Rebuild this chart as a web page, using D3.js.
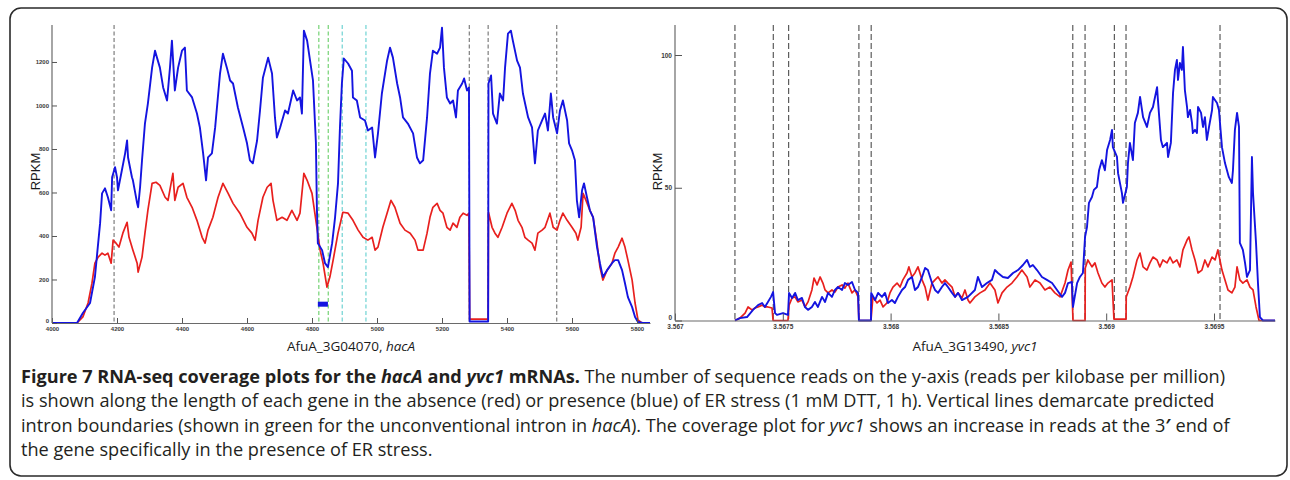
<!DOCTYPE html>
<html>
<head>
<meta charset="utf-8">
<script src="https://cdn.jsdelivr.net/npm/d3@7"></script>
<style>
  body { margin: 0; background: #fff; }
</style>
</head>
<body>
<script>
let w = 1290;
let h = 480;

// ---- hacA panel (x = position, y = RPKM) ----
const hacaRed = [
  [4003,0],[4077,0],[4095,28],[4111,92],[4123,183],[4132,275],[4142,303],[4154,321],[4163,312],[4172,321],
  [4182,275],[4188,381],[4197,367],[4206,349],[4218,413],[4231,463],[4237,394],[4249,335],[4262,275],[4265,234],
  [4277,303],[4286,413],[4295,518],[4308,642],[4320,647],[4332,633],[4348,578],[4357,564],[4372,688],[4378,564],
  [4388,624],[4403,642],[4415,578],[4431,532],[4446,472],[4462,394],[4471,367],[4480,427],[4495,486],[4511,578],
  [4526,642],[4542,596],[4557,550],[4578,505],[4600,440],[4615,413],[4625,381],[4634,472],[4649,578],[4662,624],
  [4674,642],[4680,564],[4692,472],[4708,486],[4723,472],[4738,518],[4754,472],[4763,505],[4775,688],[4785,656],
  [4800,596],[4815,440],[4825,335],[4834,275],[4846,165],[4855,211],[4865,289],[4880,413],[4895,509],[4911,505],
  [4926,472],[4942,427],[4957,394],[4972,381],[4985,394],[4994,335],[5003,349],[5018,440],[5031,505],[5043,564],
  [5055,532],[5071,459],[5086,427],[5102,413],[5117,381],[5126,335],[5142,335],[5154,413],[5163,486],[5172,532],
  [5185,550],[5194,518],[5203,505],[5215,440],[5225,427],[5234,459],[5246,440],[5255,486],[5265,505],[5277,495],
  [5283,505],[5285,18],[5342,18],[5343,509],[5354,440],[5363,413],[5372,394],[5385,440],[5400,505],[5415,550],
  [5425,518],[5434,472],[5446,440],[5455,394],[5465,381],[5477,367],[5486,335],[5495,413],[5508,427],[5517,440],
  [5532,505],[5542,440],[5554,427],[5563,472],[5572,505],[5585,472],[5600,440],[5612,413],[5618,381],[5628,440],
  [5634,596],[5643,564],[5655,518],[5665,486],[5677,367],[5686,257],[5695,197],[5708,243],[5723,275],[5732,321],
  [5742,349],[5754,390],[5763,349],[5772,289],[5785,197],[5794,92],[5803,14],[5815,0],[5840,0]
];
const hacaBlue = [
  [4003,0],[4077,0],[4095,46],[4117,92],[4132,211],[4148,459],[4154,596],[4163,619],[4172,578],[4182,518],
  [4185,670],[4194,716],[4200,670],[4203,610],[4215,702],[4225,780],[4231,839],[4234,761],[4246,670],[4249,656],
  [4262,550],[4265,532],[4271,624],[4277,748],[4286,917],[4295,1009],[4308,1174],[4317,1252],[4323,1220],[4332,1174],
  [4342,1083],[4354,1023],[4363,1174],[4369,1298],[4378,1069],[4388,1174],[4400,1252],[4409,1266],[4415,1069],[4431,1037],
  [4446,963],[4455,899],[4465,780],[4474,656],[4480,761],[4492,780],[4502,899],[4517,1147],[4526,1238],[4538,1174],
  [4548,1115],[4557,1101],[4572,991],[4588,899],[4600,826],[4609,748],[4618,734],[4631,839],[4640,977],[4649,1128],
  [4665,1220],[4677,1147],[4686,945],[4692,853],[4702,899],[4717,977],[4726,963],[4742,1069],[4754,1023],[4763,1037],
  [4769,963],[4775,1344],[4785,1298],[4794,1206],[4803,1115],[4812,830],[4815,532],[4818,367],[4831,335],[4840,275],
  [4849,257],[4862,367],[4871,486],[4880,642],[4886,899],[4892,1101],[4898,1216],[4911,1193],[4923,1160],[4926,1037],
  [4938,1023],[4948,945],[4963,931],[4972,885],[4985,899],[4994,761],[5003,872],[5015,1055],[5031,1206],[5040,1266],
  [5049,1220],[5062,1101],[5071,1037],[5080,945],[5095,917],[5111,872],[5123,761],[5132,734],[5142,748],[5154,945],
  [5163,1147],[5172,1252],[5185,1238],[5194,1266],[5200,1358],[5206,1174],[5215,1037],[5225,1009],[5234,1023],[5243,945],
  [5249,1069],[5262,1101],[5268,1124],[5277,1069],[5283,1083],[5285,7],[5342,7],[5343,1101],[5351,1138],[5357,963],
  [5369,917],[5378,1055],[5388,1023],[5394,1174],[5403,1330],[5412,1344],[5418,1298],[5431,1206],[5440,1174],[5449,1055],
  [5465,945],[5477,899],[5486,734],[5495,885],[5508,931],[5517,963],[5526,885],[5535,1055],[5542,945],[5554,872],
  [5563,977],[5572,1023],[5585,931],[5591,826],[5600,794],[5609,748],[5615,564],[5622,486],[5631,610],[5637,642],
  [5646,578],[5655,518],[5665,486],[5677,349],[5686,275],[5695,211],[5708,243],[5723,275],[5732,289],[5742,289],
  [5754,243],[5763,183],[5772,119],[5785,73],[5794,28],[5803,5],[5818,0],[5840,0]
];
const hacaIntrons = [4191, 5284, 5342, 5553];
const hacaGreen = [4821, 4850];
const hacaCyan = [4893, 4966];
const hacaBox = [4818, 4849, 75, 98];
const hacaXTicks = [4000, 4200, 4400, 4600, 4800, 5000, 5200, 5400, 5600, 5800];
const hacaYTicks = [0, 200, 400, 600, 800, 1000, 1200];

// ---- yvc1 panel (x = genome position, y = RPKM) ----
const yvcRed = [
  [3567278,0],[3567301,0.9],[3567325,2.8],[3567339,5.1],[3567357,4.0],[3567371,4.7],[3567385,5.1],[3567404,5.8],
  [3567417,5.1],[3567431,5.1],[3567450,4.7],[3567455,0],[3567524,0],[3567529,5.8],[3567543,8.5],[3567557,8.9],
  [3567570,7.0],[3567589,7.7],[3567603,5.1],[3567617,7.0],[3567635,11.5],[3567645,16.0],[3567659,13.4],[3567673,16.4],
  [3567686,14.1],[3567696,11.5],[3567710,10.4],[3567728,11.5],[3567742,10.7],[3567756,12.6],[3567775,13.4],[3567788,12.2],
  [3567802,14.1],[3567821,10.4],[3567835,11.5],[3567849,8.9],[3567853,0],[3567909,0],[3567918,8.9],[3567937,6.6],
  [3567951,7.7],[3567965,5.1],[3567983,6.6],[3567997,10.4],[3568011,12.6],[3568030,14.1],[3568044,12.6],[3568057,15.3],
  [3568076,17.9],[3568085,20.2],[3568099,16.4],[3568113,17.9],[3568127,20.2],[3568146,15.3],[3568160,12.6],[3568173,7.7],
  [3568192,14.1],[3568206,15.3],[3568220,16.4],[3568238,14.1],[3568252,15.3],[3568266,14.1],[3568285,12.6],[3568299,8.9],
  [3568313,10.4],[3568331,8.5],[3568345,11.5],[3568359,7.7],[3568368,6.6],[3568391,8.9],[3568415,10.4],[3568438,11.5],
  [3568461,14.1],[3568484,11.5],[3568498,6.6],[3568517,10.4],[3568540,12.6],[3568563,14.1],[3568586,16.4],[3568609,19.0],
  [3568633,16.4],[3568646,12.6],[3568670,15.3],[3568693,14.1],[3568716,11.5],[3568739,12.6],[3568762,10.4],[3568786,8.9],
  [3568809,14.1],[3568823,19.0],[3568837,22.0],[3568846,0],[3568902,0],[3568903,19.8],[3568915,22.8],[3568934,20.2],
  [3568948,21.7],[3568962,17.9],[3568980,14.1],[3568994,12.6],[3569008,14.1],[3569027,15.3],[3569036,0.5],[3569092,0.5],
  [3569093,8.9],[3569110,12.6],[3569124,16.4],[3569143,22.8],[3569157,25.4],[3569171,20.2],[3569189,19.0],[3569203,21.7],
  [3569217,23.9],[3569236,22.8],[3569249,20.2],[3569263,22.8],[3569282,21.7],[3569296,23.9],[3569310,21.7],[3569328,22.8],
  [3569342,20.2],[3569356,26.6],[3569375,30.3],[3569384,31.5],[3569398,26.6],[3569412,22.8],[3569426,17.9],[3569444,19.0],
  [3569458,22.8],[3569472,20.2],[3569491,23.9],[3569505,22.8],[3569518,26.6],[3569537,19.0],[3569551,15.3],[3569565,11.5],
  [3569583,10.4],[3569597,12.6],[3569607,20.2],[3569620,15.3],[3569634,14.1],[3569653,15.3],[3569667,12.6],[3569681,11.5],
  [3569695,5.1],[3569709,0],[3569783,0]
];
const yvcBlue = [
  [3567278,0],[3567301,0.9],[3567334,1.3],[3567362,4.0],[3567385,5.8],[3567404,6.6],[3567417,5.1],[3567431,7.0],
  [3567445,8.9],[3567455,10.7],[3567464,2.8],[3567473,2.1],[3567501,2.8],[3567524,2.1],[3567529,10.4],[3567543,8.5],
  [3567557,10.4],[3567570,7.7],[3567589,8.5],[3567603,5.1],[3567617,4.0],[3567635,5.1],[3567649,7.0],[3567663,5.1],
  [3567682,8.9],[3567696,7.0],[3567710,10.4],[3567728,8.9],[3567742,11.5],[3567756,12.6],[3567775,11.5],[3567788,14.1],
  [3567802,13.4],[3567821,14.5],[3567835,11.5],[3567849,10.4],[3567853,0],[3567909,0],[3567910,10.4],[3567928,7.7],
  [3567942,10.4],[3567960,8.9],[3567974,10.4],[3567988,6.6],[3568006,7.7],[3568020,6.6],[3568034,8.9],[3568053,11.5],
  [3568067,12.6],[3568081,15.3],[3568099,16.4],[3568113,11.5],[3568127,12.6],[3568146,16.4],[3568160,19.8],[3568173,19.0],
  [3568192,14.1],[3568206,11.5],[3568220,10.4],[3568238,12.6],[3568252,14.1],[3568266,12.6],[3568285,10.4],[3568299,8.9],
  [3568313,10.4],[3568331,7.7],[3568359,8.9],[3568391,11.5],[3568405,16.4],[3568424,12.6],[3568447,14.1],[3568470,15.3],
  [3568484,19.0],[3568498,17.9],[3568521,16.4],[3568544,16.0],[3568568,17.9],[3568591,19.0],[3568614,20.9],[3568633,22.8],
  [3568646,20.2],[3568660,20.9],[3568679,19.0],[3568702,16.4],[3568725,15.3],[3568749,14.1],[3568772,11.5],[3568795,8.9],
  [3568809,10.4],[3568823,14.1],[3568841,14.5],[3568846,5.1],[3568865,14.1],[3568878,16.4],[3568892,17.9],[3568902,31.5],
  [3568911,35.2],[3568920,44.3],[3568934,46.5],[3568943,49.2],[3568957,50.3],[3568967,56.6],[3568980,60.4],[3568994,56.6],
  [3569004,64.2],[3569018,68.0],[3569027,71.8],[3569031,65.3],[3569050,61.6],[3569055,55.5],[3569073,48.0],[3569078,44.3],
  [3569096,50.3],[3569101,59.3],[3569110,66.9],[3569124,60.4],[3569133,74.4],[3569147,78.2],[3569157,84.2],[3569171,76.6],
  [3569189,72.9],[3569203,78.2],[3569217,80.4],[3569236,87.9],[3569240,83.0],[3569254,68.0],[3569263,65.3],[3569282,66.9],
  [3569287,61.6],[3569300,66.9],[3569310,85.6],[3569319,94.4],[3569328,98.1],[3569333,90.6],[3569342,97.0],[3569351,94.4],
  [3569356,103.0],[3569365,86.8],[3569375,80.4],[3569379,76.6],[3569389,79.3],[3569398,74.4],[3569402,70.6],[3569412,71.8],
  [3569421,70.6],[3569426,80.4],[3569440,78.2],[3569449,72.9],[3569458,76.6],[3569467,68.0],[3569477,72.9],[3569491,79.3],
  [3569495,84.2],[3569514,81.9],[3569523,79.3],[3569537,65.3],[3569551,59.3],[3569569,54.0],[3569583,51.8],[3569588,56.6],
  [3569597,71.8],[3569607,78.2],[3569616,72.9],[3569620,29.2],[3569634,26.6],[3569644,21.7],[3569653,16.4],[3569667,19.0],
  [3569676,61.6],[3569681,48.0],[3569695,29.2],[3569704,14.1],[3569713,1.3],[3569727,0],[3569783,0]
];
const yvcIntrons = [3567278, 3567456, 3567527, 3567853, 3567910, 3568845, 3568902, 3569038, 3569092, 3569528];
const yvcXTicks = [3567000, 3567500, 3568000, 3568500, 3569000, 3569500];
const yvcYTicks = [0, 50, 100];

const captionLines = [
  [["Figure 7 RNA-seq coverage plots for the ", "b"], ["hacA", "bi"], [" and ", "b"], ["yvc1", "bi"], [" mRNAs.", "b"],
   [" The number of sequence reads on the y-axis (reads per kilobase per million)", ""]],
  [["is shown along the length of each gene in the absence (red) or presence (blue) of ER stress (1 mM DTT, 1 h). Vertical lines demarcate predicted", ""]],
  [["intron boundaries (shown in green for the unconventional intron in ", ""], ["hacA", "i"], ["). The coverage plot for ", ""],
   ["yvc1", "i"], [" shows an increase in reads at the 3", ""], ["\u2032", "b"], [" end of", ""]],
  [["the gene specifically in the presence of ER stress.", ""]]
];

let red = "#e8201e";
let blue = "#1414e0";

let svg = d3.select("body").append("svg").attr("width", w).attr("height", h);
svg.append("rect").attr("width", w).attr("height", h).attr("fill", "#fff");

// rounded frame
svg.append("rect")
  .attr("x", 10).attr("y", 8)
  .attr("width", 1277).attr("height", 468)
  .attr("rx", 11)
  .attr("fill", "none")
  .attr("stroke", "#2a2a2a")
  .attr("stroke-width", 1.6);

function drawPanel(p) {
  let g = svg.append("g");
  let x = d3.scaleLinear().domain(p.xDomain).range([p.left, p.right]);
  let y = d3.scaleLinear().domain(p.yDomain).range([p.bottom, p.top]);

  // vertical boundary lines
  p.vlines.forEach((vl) => {
    g.selectAll(null)
      .data(vl.values)
      .enter()
      .append("line")
      .attr("x1", (d) => x(d)).attr("x2", (d) => x(d))
      .attr("y1", y(p.yDomain[1])).attr("y2", y(0))
      .attr("stroke", vl.color)
      .attr("stroke-width", vl.width)
      .attr("stroke-dasharray", vl.dash);
  });

  if (p.box) {
    g.append("rect")
      .attr("x", x(p.box[0]))
      .attr("y", y(p.box[3]))
      .attr("width", x(p.box[1]) - x(p.box[0]))
      .attr("height", y(p.box[2]) - y(p.box[3]))
      .attr("fill", blue);
  }

  let line = d3.line().x((d) => x(d[0])).y((d) => y(d[1]));
  g.append("path").datum(p.red).attr("d", line)
    .attr("fill", "none").attr("stroke", red).attr("stroke-width", 1.7).attr("stroke-linejoin", "round");
  g.append("path").datum(p.blue).attr("d", line)
    .attr("fill", "none").attr("stroke", blue).attr("stroke-width", 1.9).attr("stroke-linejoin", "round");

  let xAxis = d3.axisBottom(x).tickValues(p.xTicks).tickFormat(p.xFormat)
    .tickSizeInner(-p.tick).tickSizeOuter(0).tickPadding(3.5);
  let yAxis = d3.axisLeft(y).tickValues(p.yTicks).tickFormat(d3.format("d"))
    .tickSizeInner(-p.tick).tickSizeOuter(0).tickPadding(3);

  let gx = g.append("g").attr("transform", `translate(0,${p.bottom})`).call(xAxis);
  let gy = g.append("g").attr("transform", `translate(${p.left},0)`).call(yAxis);
  gy.select(".domain").attr("d", `M0,${p.top}V${p.bottom}`);
  [gx, gy].forEach((ax) => {
    ax.attr("font-family", "'Liberation Sans', Arial, sans-serif")
      .attr("font-size", p.tickFont)
      .attr("font-weight", "bold");
    ax.selectAll(".domain").attr("stroke", "#6a6a6a").attr("stroke-width", 1.2);
    ax.selectAll(".tick line").attr("stroke", "#555");
    ax.selectAll(".tick text").attr("fill", "#3a3a3a");
  });
  // the zero label sits just above the corner, as in the figure
  gy.selectAll(".tick text").filter((d) => d === 0).attr("dy", "-0.1em");

  // y label
  g.append("text")
    .attr("transform", `translate(${p.ylabX},171.5) rotate(-90)`)
    .attr("text-anchor", "middle")
    .attr("font-family", "'Liberation Sans', Arial, sans-serif")
    .attr("font-size", 13)
    .attr("fill", "#1a1a1a")
    .text("RPKM");

  // x label
  let xl = g.append("text")
    .attr("x", (p.left + p.right) / 2)
    .attr("y", 351)
    .attr("text-anchor", "middle")
    .attr("font-family", "'Open Sans', sans-serif")
    .attr("font-size", 13.5)
    .attr("fill", "#1a1a1a")
    .style("white-space", "pre");
  xl.append("tspan").text(p.name + ", ");
  xl.append("tspan").attr("font-style", "italic").text(p.gene);
}

drawPanel({
  left: 52, right: 650, top: 25, bottom: 323,
  xDomain: [4000, 5840], yDomain: [0, 1370],
  red: hacaRed, blue: hacaBlue, box: hacaBox,
  xTicks: hacaXTicks, yTicks: hacaYTicks, xFormat: d3.format("d"),
  tick: 5, tickFont: 6, ylabX: 40,
  vlines: [
    { values: hacaIntrons, color: "#7d7d7d", width: 1.2, dash: "4,2.5" },
    { values: hacaGreen, color: "#74d274", width: 1.2, dash: "4,2.5" },
    { values: hacaCyan, color: "#6fd3d3", width: 1.2, dash: "4,2.5" }
  ],
  name: "AfuA_3G04070", gene: "hacA"
});

drawPanel({
  left: 675, right: 1275, top: 25, bottom: 320.5,
  xDomain: [3567000, 3569783], yDomain: [0, 111.3],
  red: yvcRed, blue: yvcBlue, box: null,
  xTicks: yvcXTicks, yTicks: yvcYTicks, xFormat: (d) => String(+(d / 1e6).toFixed(4)),
  tick: 7, tickFont: 6.5, ylabX: 662,
  vlines: [
    { values: yvcIntrons, color: "#5c5c5c", width: 1.2, dash: "6,3" }
  ],
  name: "AfuA_3G13490", gene: "yvc1"
});

// caption
let cap = svg.append("g")
  .attr("font-family", "'Open Sans', sans-serif")
  .attr("fill", "#231f20");
let capTexts = captionLines.map((segs, i) => {
  let t = cap.append("text")
    .attr("x", 21)
    .attr("y", 383 + i * 24.4)
    .attr("font-size", 16)
    .style("white-space", "pre");
  segs.forEach((s) => {
    t.append("tspan")
      .attr("font-weight", s[1].includes("b") ? 700 : 400)
      .attr("font-style", s[1].includes("i") ? "italic" : "normal")
      .text(s[0]);
  });
  return t;
});
// fit the caption block so the longest line spans the frame like the figure
let widest = d3.max(capTexts, (t) => t.node().getComputedTextLength());
let capSize = 16 * 1210 / widest;
capTexts.forEach((t) => t.attr("font-size", capSize));
</script>
</body>
</html>
